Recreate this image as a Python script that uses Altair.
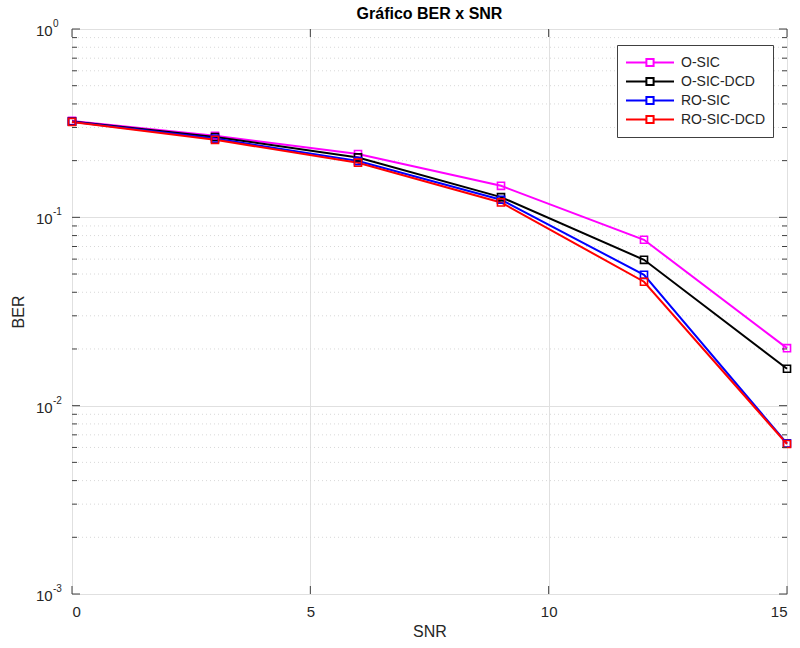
import altair as alt
import pandas as pd

# ---------------- data ----------------
snr = [0, 3, 6, 9, 12, 15]
ber_osic = [0.325, 0.271, 0.217, 0.147, 0.076, 0.0202]
ber_osic_dcd = [0.323, 0.267, 0.208, 0.128, 0.0595, 0.0157]
ber_rosic = [0.322, 0.262, 0.199, 0.124, 0.0495, 0.0063]
ber_rosic_dcd = [0.321, 0.258, 0.195, 0.120, 0.0455, 0.00626]

series_names = ["O-SIC", "O-SIC-DCD", "RO-SIC", "RO-SIC-DCD"]
series_colors = ["#ff00ff", "#000000", "#0000ff", "#ff0000"]

x_ticks = [0, 5, 10, 15]
y_major = [1, 0.1, 0.01, 0.001]
y_exp = ["0", "-1", "-2", "-3"]
y_minor = [m * 10.0 ** k for k in (-3, -2, -1) for m in range(2, 10)]

W, H = 715, 565
FONT = "Liberation Sans"
AX = "#404040"
TXT = "#262626"

rows = []
for name, vals in zip(series_names, [ber_osic, ber_osic_dcd, ber_rosic, ber_rosic_dcd]):
    for s, v in zip(snr, vals):
        rows.append({"SNR": s, "BER": v, "serie": name})
df = pd.DataFrame(rows)

xdf = pd.DataFrame({"v": x_ticks})
ydf = pd.DataFrame({"v": y_major, "b": ["10"] * len(y_major), "e": y_exp})
mdf = pd.DataFrame({"v": y_minor})

xscale = alt.Scale(domain=[0, 15], nice=False, zero=False)
yscale = alt.Scale(type="log", domain=[0.001, 1], nice=False)

legend_symbol = "M-1,0H-0.15M0.15,0H1M-0.15,-0.15H0.15V0.15H-0.15Z"

color = alt.Color(
    "serie:N",
    scale=alt.Scale(domain=series_names, range=series_colors),
    legend=alt.Legend(
        title=None,
        orient="none",
        legendX=545,
        legendY=16,
        strokeColor=AX,
        fillColor="white",
        padding=8,
        labelFont=FONT,
        labelFontSize=14,
        labelColor=TXT,
        labelOffset=6,
        symbolType=legend_symbol,
        symbolSize=2304,
        symbolStrokeWidth=2,
        symbolFillColor="transparent",
        clipHeight=19,
        rowPadding=0,
    ),
)

x_axis = alt.Axis(
    values=x_ticks, grid=True, gridColor="#e0e0e0", domain=False, ticks=False,
    labelFont=FONT, labelFontSize=15, labelColor=TXT, labelPadding=10,
    title="SNR", titleFont=FONT, titleFontSize=16, titleFontWeight="normal",
    titleColor=TXT, titlePadding=4,
)
y_axis = alt.Axis(
    values=y_major, grid=True, gridColor="#e0e0e0", domain=False, ticks=False,
    labels=False,
    title="BER", titleFont=FONT, titleFontSize=16, titleFontWeight="normal",
    titleColor=TXT, titlePadding=46,
)


def X(field):
    return alt.X(field, scale=xscale, axis=x_axis)


def Y(field):
    return alt.Y(field, scale=yscale, axis=y_axis)


minor_grid = alt.Chart(mdf).mark_rule(color="#d8d8d8", strokeDash=[1, 3], strokeWidth=1).encode(
    y=Y("v:Q")
)

lines = alt.Chart(df).mark_line(strokeWidth=2).encode(
    x=X("SNR:Q"), y=Y("BER:Q"), color=color,
)
points = alt.Chart(df).mark_point(shape="square", filled=False, size=50, strokeWidth=1.6, opacity=1).encode(
    x=X("SNR:Q"), y=Y("BER:Q"), color=color,
)

# inward ticks (MATLAB style box)
yt_left = alt.Chart(ydf).mark_rule(color=AX).encode(y=Y("v:Q"), x=alt.value(0), x2=alt.value(8))
yt_right = alt.Chart(ydf).mark_rule(color=AX).encode(y=Y("v:Q"), x=alt.value(W - 8), x2=alt.value(W))
ym_left = alt.Chart(mdf).mark_rule(color=AX).encode(y=Y("v:Q"), x=alt.value(0), x2=alt.value(5))
ym_right = alt.Chart(mdf).mark_rule(color=AX).encode(y=Y("v:Q"), x=alt.value(W - 5), x2=alt.value(W))
xt_bottom = alt.Chart(xdf).mark_rule(color=AX).encode(x=X("v:Q"), y=alt.value(H - 8), y2=alt.value(H))
xt_top = alt.Chart(xdf).mark_rule(color=AX).encode(x=X("v:Q"), y=alt.value(0), y2=alt.value(8))

# y tick labels 10^k
ylab_base = alt.Chart(ydf).mark_text(align="left", baseline="middle", font=FONT, fontSize=15,
                                     color=TXT, dy=2).encode(
    y=Y("v:Q"), x=alt.value(-36), text="b:N")
ylab_exp = alt.Chart(ydf).mark_text(align="left", baseline="middle", font=FONT, fontSize=10,
                                    color=TXT, dy=-5).encode(
    y=Y("v:Q"), x=alt.value(-19), text="e:N")

chart = alt.layer(
    minor_grid, lines, points, yt_left, yt_right, ym_left, ym_right, xt_bottom, xt_top,
    ylab_base, ylab_exp,
).properties(
    width=W,
    height=H,
    title=alt.TitleParams("Gráfico BER x SNR", font=FONT, fontSize=16, fontWeight="bold",
                          color="#000000", offset=-3, anchor="middle", frame="group"),
    autosize=alt.AutoSizeParams(type="none"),
    padding={"left": 72, "top": 29, "right": 13, "bottom": 54},
).configure_view(
    stroke=AX, strokeWidth=1
).configure(background="white")

chart.save("out.html", embed_options={"renderer": "svg", "actions": False})
